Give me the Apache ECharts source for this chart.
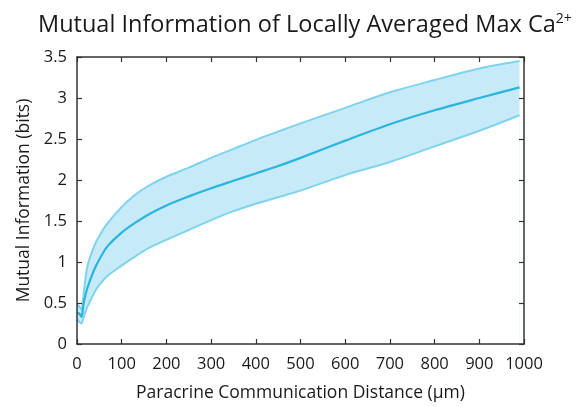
<!DOCTYPE html>
<html><head><meta charset="utf-8">
<script src="https://cdn.jsdelivr.net/npm/echarts@6/dist/echarts.min.js"></script>
<style>html,body{margin:0;padding:0;background:#fff}#c{width:581px;height:407px}</style>
</head><body><div id="c"></div>
<script>
var distance = [0, 5, 10, 15, 23, 38, 50, 68, 98, 128, 160, 200, 250, 300, 350, 400, 450, 500, 600, 700, 800, 900, 990];
var meanMI  = [0.38, 0.37, 0.33, 0.50, 0.68, 0.90, 1.03, 1.19, 1.35, 1.47, 1.58, 1.69, 1.80, 1.90, 1.99, 2.08, 2.17, 2.27, 2.48, 2.68, 2.85, 3.00, 3.13];
var upperMI = [0.48, 0.46, 0.42, 0.62, 0.94, 1.19, 1.32, 1.47, 1.66, 1.81, 1.93, 2.04, 2.15, 2.27, 2.38, 2.49, 2.59, 2.69, 2.88, 3.07, 3.22, 3.36, 3.45];
var lowerMI = [0.30, 0.27, 0.25, 0.33, 0.45, 0.62, 0.72, 0.83, 0.95, 1.06, 1.17, 1.27, 1.39, 1.51, 1.62, 1.71, 1.79, 1.87, 2.06, 2.22, 2.41, 2.60, 2.79];
var xTicks = [0, 100, 200, 300, 400, 500, 600, 700, 800, 900, 1000];
var yTicks = [0, 0.5, 1, 1.5, 2, 2.5, 3, 3.5];

var FONT = 'Open Sans';
function pairs(arr){ return distance.map(function(d, i){ return [d, arr[i]]; }); }
var upperData = pairs(upperMI), lowerData = pairs(lowerMI), meanData = pairs(meanMI);

var axisLine = {show: true, onZero: false, lineStyle: {color: '#333', width: 1.5}};
var axisTick = {show: true, inside: true, length: 5, lineStyle: {color: '#333', width: 1.2}};
var SM = 0.3;
var BAND_LINE = '#80d3ef', BAND_FILL = '#c6eaf7', MEAN = '#2ab4e0';

var chart = echarts.init(document.getElementById('c'), null, {renderer: 'canvas'});
chart.setOption({
  animation: false,
  title: {
    text: '{a|Mutual Information of Locally Averaged Max Ca}{s|2+}',
    left: 33, top: 7,
    textStyle: {
      rich: {
        a: {fontFamily: FONT, fontSize: 23.5, fontWeight: 'normal', color: '#1a1a1a'},
        s: {fontFamily: FONT, fontSize: 14, fontWeight: 'normal', color: '#1a1a1a', verticalAlign: 'top', padding: [0, 0, 12, 0]}
      }
    }
  },
  grid: {left: 77, right: 57, top: 57, bottom: 63, containLabel: false, outerBoundsMode: 'none'},
  xAxis: [{
    type: 'value', min: xTicks[0], max: xTicks[xTicks.length - 1], interval: 100, position: 'bottom', z: 10,
    axisLine: axisLine, axisTick: axisTick, splitLine: {show: false},
    axisLabel: {fontFamily: FONT, fontSize: 16.5, color: '#1a1a1a', margin: 12, formatter: function(v){ return String(v); }},
    name: 'Paracrine Communication Distance (µm)', nameLocation: 'middle', nameGap: 40,
    nameTextStyle: {fontFamily: FONT, fontSize: 17.5, color: '#1a1a1a'}
  }, {
    type: 'value', min: xTicks[0], max: xTicks[xTicks.length - 1], interval: 100, position: 'top', z: 10,
    axisLine: axisLine, axisTick: axisTick, splitLine: {show: false}, axisLabel: {show: false}
  }],
  yAxis: [{
    type: 'value', min: yTicks[0], max: yTicks[yTicks.length - 1], interval: 0.5, position: 'left', z: 10,
    axisLine: axisLine, axisTick: axisTick, splitLine: {show: false},
    axisLabel: {fontFamily: FONT, fontSize: 16.5, color: '#1a1a1a', margin: 10, formatter: function(v){ return String(v); }},
    name: 'Mutual Information (bits)', nameLocation: 'middle', nameGap: 44, nameRotate: 90,
    nameTextStyle: {fontFamily: FONT, fontSize: 17.5, color: '#1a1a1a'}
  }, {
    type: 'value', min: yTicks[0], max: yTicks[yTicks.length - 1], interval: 0.5, position: 'right', z: 10,
    axisLine: axisLine, axisTick: axisTick, splitLine: {show: false}, axisLabel: {show: false}
  }],
  series: [{
    name: 'upperFill', type: 'line', data: upperData, smooth: SM, symbol: 'none', silent: true,
    lineStyle: {width: 0, opacity: 0}, areaStyle: {color: BAND_FILL, opacity: 1, origin: 'start'}, z: 1
  }, {
    name: 'lowerMask', type: 'line', data: lowerData, smooth: SM, symbol: 'none', silent: true,
    lineStyle: {width: 0, opacity: 0}, areaStyle: {color: '#ffffff', opacity: 1, origin: 'start'}, z: 2
  }, {
    name: 'upper', type: 'line', data: upperData, smooth: SM, symbol: 'none',
    lineStyle: {color: BAND_LINE, width: 2}, z: 3
  }, {
    name: 'lower', type: 'line', data: lowerData, smooth: SM, symbol: 'none',
    lineStyle: {color: BAND_LINE, width: 2}, z: 3
  }, {
    name: 'mean', type: 'line', data: meanData, smooth: SM, symbol: 'none',
    lineStyle: {color: MEAN, width: 2.2}, z: 4
  }]
});
</script>
</body></html>
